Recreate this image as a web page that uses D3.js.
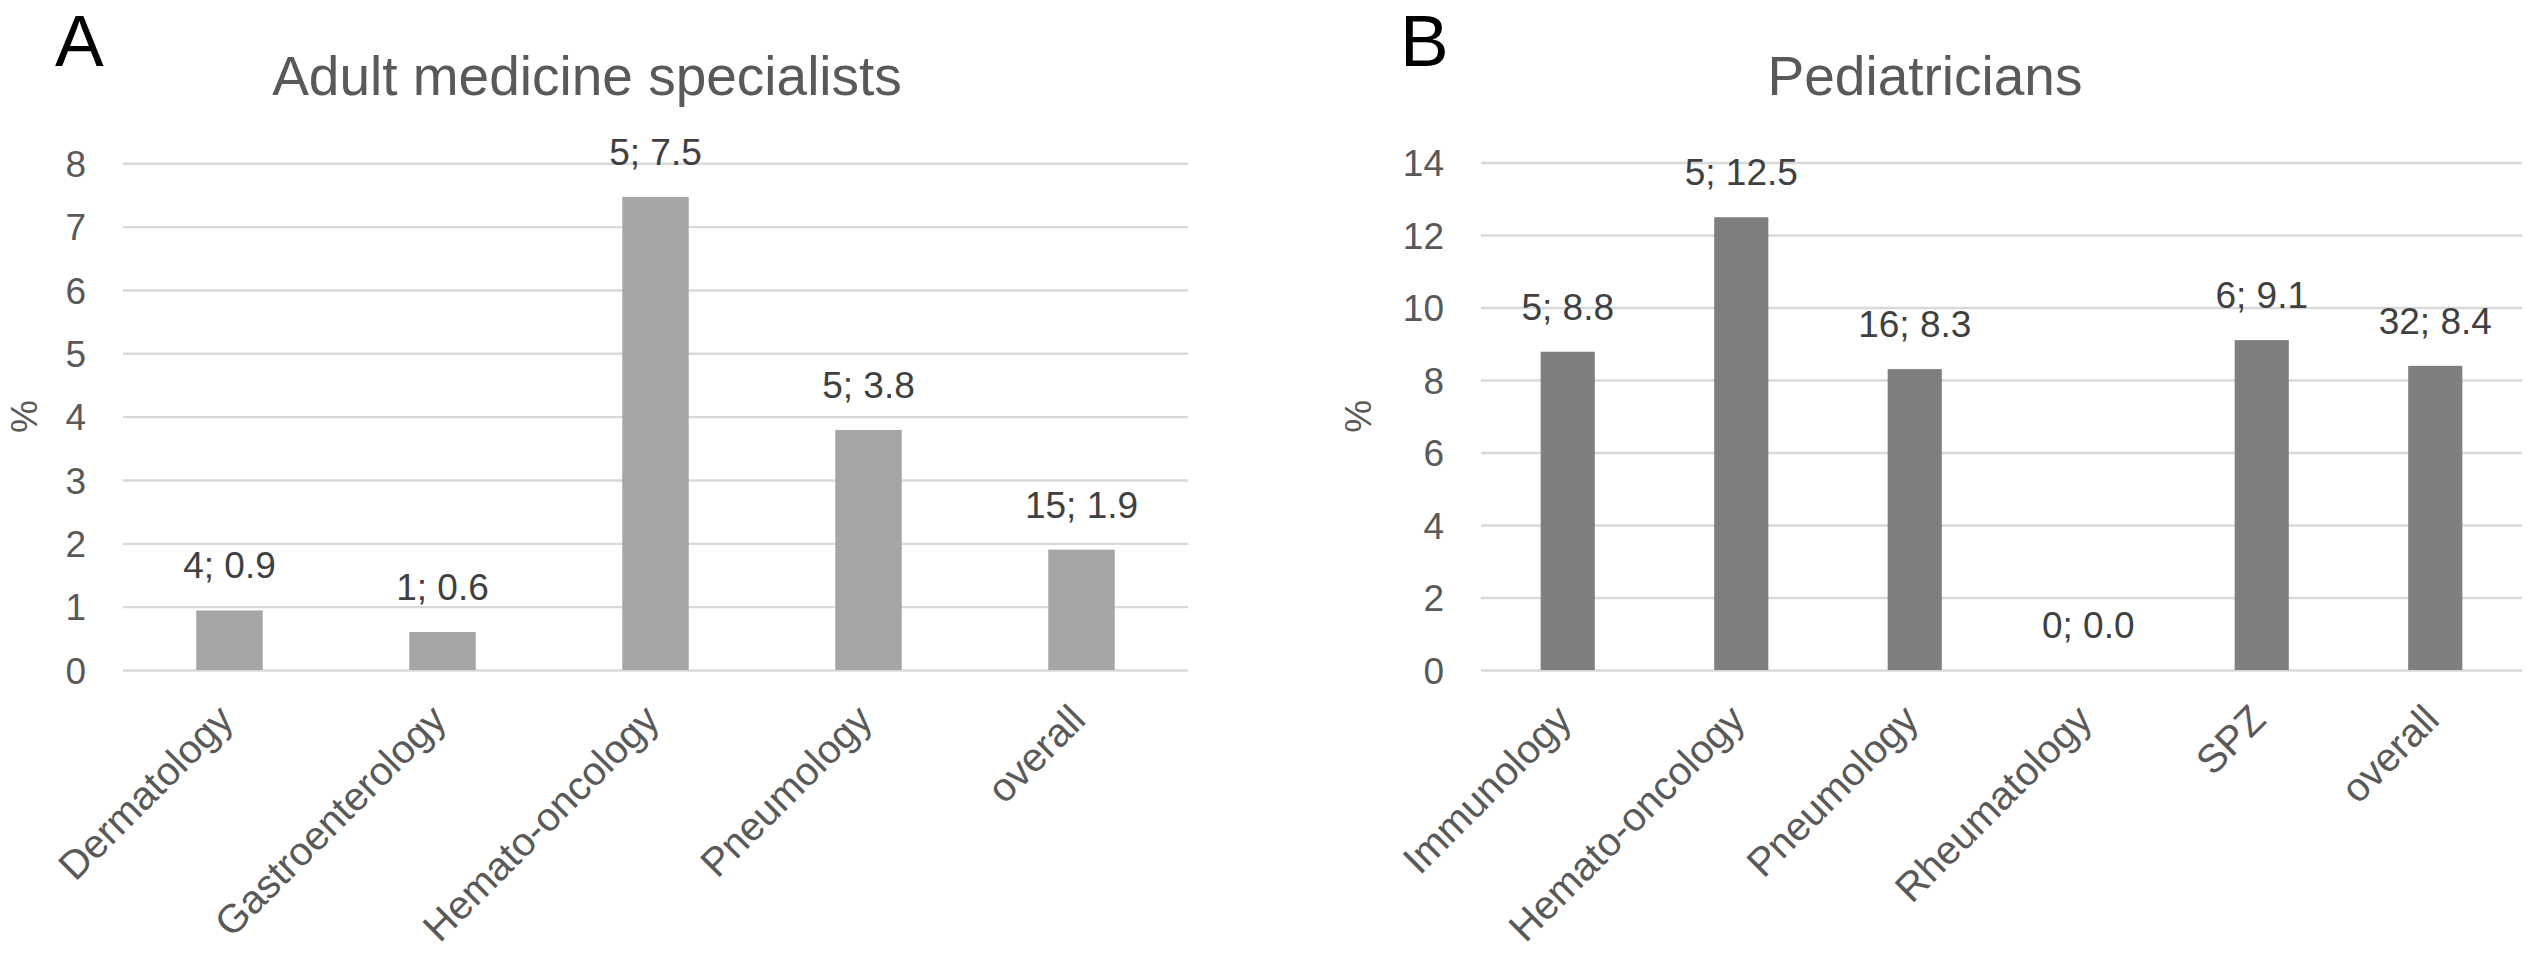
<!DOCTYPE html>
<html>
<head>
<meta charset="utf-8">
<script src="https://cdn.jsdelivr.net/npm/d3@7"></script>
<style>
  html, body { margin: 0; padding: 0; background: #fff; }
  svg { display: block; }
  text { font-family: "Liberation Sans", Arial, "DejaVu Sans", sans-serif; }
</style>
</head>
<body>
<svg id="chart" width="2532" height="958"></svg>
<script>
// ---------- data ----------
const adultCategories = ["Dermatology", "Gastroenterology", "Hemato-oncology", "Pneumology", "overall"];
const adultValues = [0.94, 0.6, 7.47, 3.79, 1.9];
const adultLabels = ["4; 0.9", "1; 0.6", "5; 7.5", "5; 3.8", "15; 1.9"];
const adultTicks = [0, 1, 2, 3, 4, 5, 6, 7, 8];

const pedCategories = ["Immunology", "Hemato-oncology", "Pneumology", "Rheumatology", "SPZ", "overall"];
const pedValues = [8.78, 12.49, 8.3, 0, 9.1, 8.39];
const pedLabels = ["5; 8.8", "5; 12.5", "16; 8.3", "0; 0.0", "6; 9.1", "32; 8.4"];
const pedTicks = [0, 2, 4, 6, 8, 10, 12, 14];

const panelTitles = ["Adult medicine specialists", "Pediatricians"];
const panelLetters = ["A", "B"];
const yAxisTitle = "%";

// ---------- drawing ----------
const svg = d3.select("#chart");
const textColor = "#595959";
const gridColor = "#d9d9d9";

function drawPanel(cfg) {
  const g = svg.append("g");
  const x = d3.scaleBand()
    .domain(cfg.categories)
    .range([cfg.x0, cfg.x1])
    .paddingInner(0.688)
    .paddingOuter(0.344);
  const y = d3.scaleLinear()
    .domain([0, d3.max(cfg.ticks)])
    .range([cfg.yBottom, cfg.yTop]);

  // y axis with gridlines
  const yAxis = d3.axisLeft(y)
    .tickValues(cfg.ticks)
    .tickFormat(d3.format("d"))
    .tickSize(-(cfg.x1 - cfg.x0))
    .tickPadding(37);
  const ya = g.append("g")
    .attr("transform", `translate(${cfg.x0},0)`)
    .call(yAxis);
  ya.select(".domain").remove();
  ya.selectAll(".tick line")
    .attr("stroke", gridColor)
    .attr("stroke-width", 2.4);
  ya.selectAll(".tick text")
    .attr("fill", textColor)
    .attr("font-size", 37)
    .attr("dy", "0.355em");

  // bars
  g.selectAll("rect.bar")
    .data(cfg.values)
    .enter().append("rect")
    .attr("class", "bar")
    .attr("x", (d, i) => x(cfg.categories[i]))
    .attr("width", x.bandwidth())
    .attr("y", d => y(d))
    .attr("height", d => y(0) - y(d))
    .attr("fill", cfg.color);

  // data labels
  g.selectAll("text.dlabel")
    .data(cfg.labels)
    .enter().append("text")
    .attr("class", "dlabel")
    .attr("x", (d, i) => x(cfg.categories[i]) + x.bandwidth() / 2)
    .attr("y", (d, i) => y(cfg.values[i]) - 32)
    .attr("text-anchor", "middle")
    .attr("font-size", 37)
    .attr("fill", "#404040")
    .text(d => d);

  // category labels (rotated)
  g.selectAll("text.cat")
    .data(cfg.categories)
    .enter().append("text")
    .attr("class", "cat")
    .attr("transform", d => {
      const cx = x(d) + x.bandwidth() / 2 + 6;
      const cy = y(0) + 52;
      return `translate(${cx},${cy}) rotate(-45)`;
    })
    .attr("text-anchor", "end")
    .attr("font-size", 40)
    .attr("fill", textColor)
    .text(d => d);

  // y-axis title
  g.append("text")
    .attr("transform", `translate(${cfg.yTitleX},${(cfg.yTop + cfg.yBottom) / 2}) rotate(-90)`)
    .attr("text-anchor", "middle")
    .attr("dy", "0.35em")
    .attr("font-size", 37)
    .attr("fill", textColor)
    .text(yAxisTitle);

  // chart title
  g.append("text")
    .attr("x", cfg.titleX)
    .attr("y", 95)
    .attr("text-anchor", "middle")
    .attr("font-size", 55)
    .attr("fill", textColor)
    .text(cfg.title);

  // panel letter
  g.append("text")
    .attr("x", cfg.letterX)
    .attr("y", 66)
    .attr("font-size", 73)
    .attr("fill", "#000")
    .text(cfg.letter);
}

drawPanel({
  categories: adultCategories, values: adultValues, labels: adultLabels, ticks: adultTicks,
  x0: 123, x1: 1188, yTop: 163.3, yBottom: 670, color: "#a5a5a5",
  yTitleX: 24, titleX: 587, title: panelTitles[0], letter: panelLetters[0], letterX: 55
});

drawPanel({
  categories: pedCategories, values: pedValues, labels: pedLabels, ticks: pedTicks,
  x0: 1481, x1: 2522, yTop: 162.5, yBottom: 670, color: "#7f7f7f",
  yTitleX: 1358, titleX: 1925, title: panelTitles[1], letter: panelLetters[1], letterX: 1400
});
</script>
</body>
</html>
